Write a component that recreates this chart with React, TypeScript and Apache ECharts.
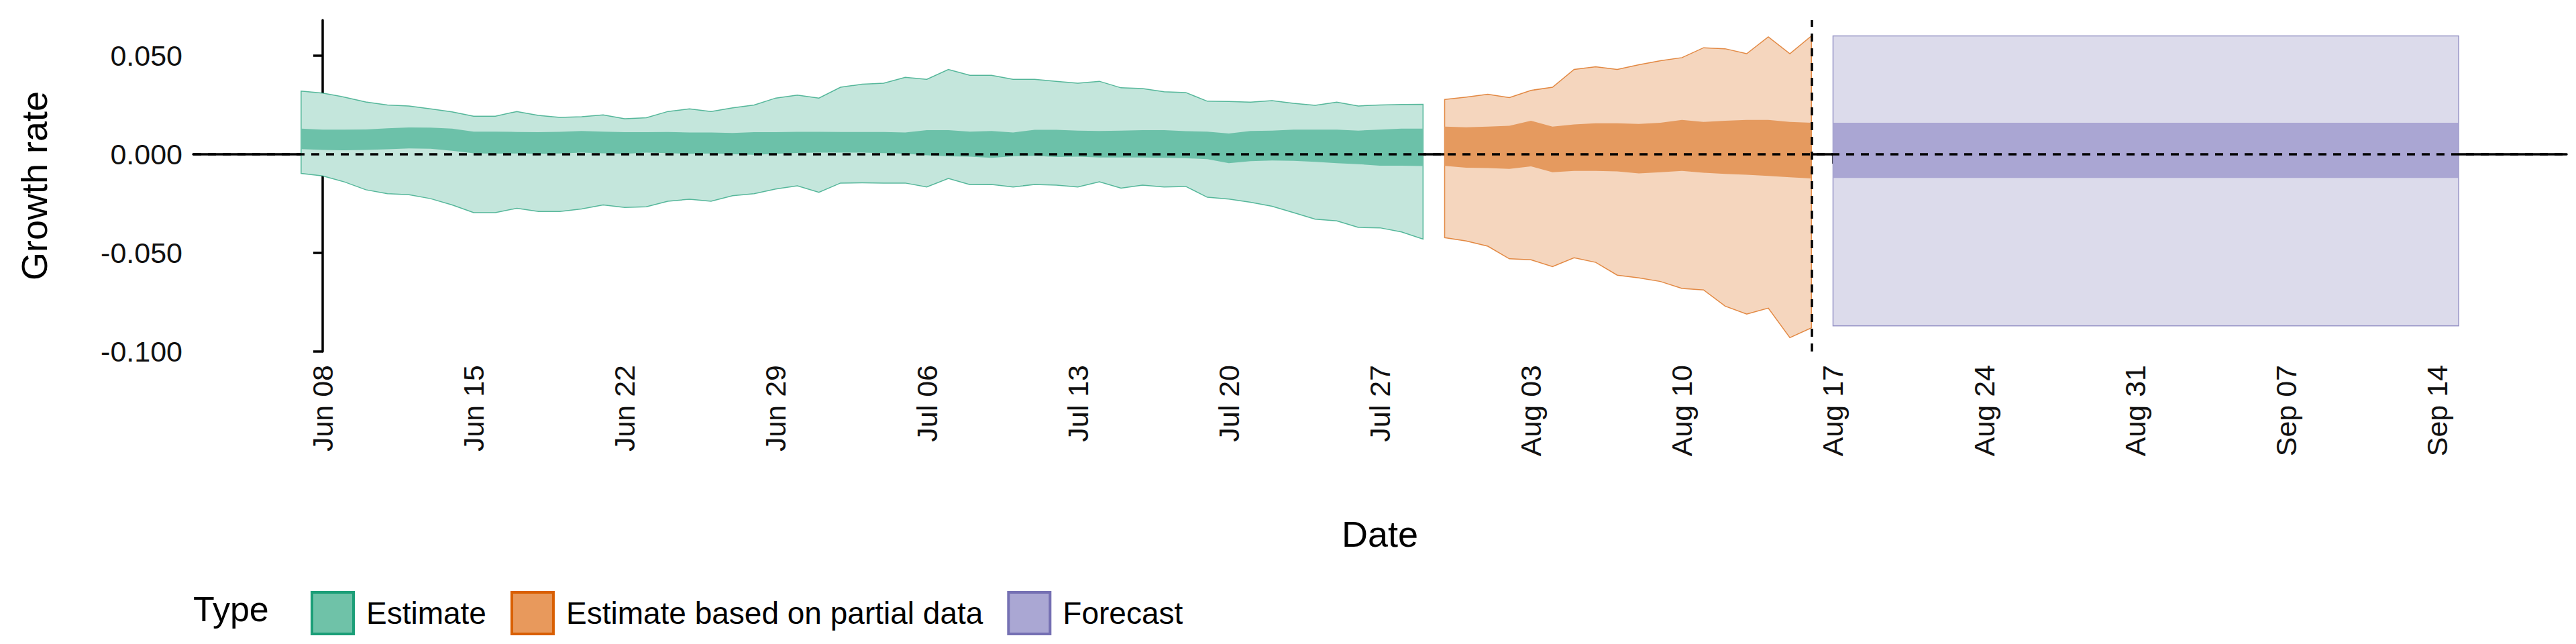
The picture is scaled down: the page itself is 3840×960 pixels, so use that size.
import React, { useEffect, useRef } from "react";
import * as echarts from "echarts";

// day 0 = Jun 08 2020
const REF = Date.UTC(2020, 5, 8);
const dayOf = (s: string) => Math.round((Date.parse(s + "T00:00:00Z") - REF) / 86400000);
const MONTHS = ["Jan", "Feb", "Mar", "Apr", "May", "Jun", "Jul", "Aug", "Sep", "Oct", "Nov", "Dec"];

const tickDays = [0, 7, 14, 21, 28, 35, 42, 49, 56, 63, 70, 77, 84, 91, 98];
const yTicks = [-0.1, -0.05, 0, 0.05];

const estimateStart = "2020-06-07";
const estUpper = [
  0.032, 0.031, 0.029, 0.0265, 0.025, 0.0245, 0.023, 0.0215, 0.0193, 0.0193, 0.0217, 0.0197, 0.0187, 0.019,
  0.02, 0.018, 0.0185, 0.0217, 0.023, 0.0217, 0.0235, 0.025, 0.0285, 0.03, 0.0285, 0.034, 0.0355, 0.036,
  0.039, 0.038, 0.043, 0.04, 0.04, 0.038, 0.038, 0.037, 0.036, 0.037, 0.0337, 0.0333, 0.0317, 0.0313,
  0.0269, 0.0268, 0.0264, 0.0272, 0.0258, 0.0248, 0.0264, 0.0245, 0.025, 0.0252, 0.0253,
];
const estLower = [
  -0.0097, -0.011, -0.014, -0.018, -0.02, -0.0205, -0.0225, -0.0257, -0.0296, -0.0296, -0.0274, -0.029,
  -0.029, -0.0277, -0.0257, -0.027, -0.0266, -0.0238, -0.0228, -0.0238, -0.021, -0.02, -0.0176, -0.016,
  -0.0193, -0.0146, -0.0145, -0.0146, -0.0146, -0.0166, -0.0123, -0.0154, -0.0153, -0.0166, -0.0153,
  -0.0157, -0.0166, -0.014, -0.0172, -0.0157, -0.0166, -0.0163, -0.0218, -0.0227, -0.0243, -0.0264,
  -0.0296, -0.0329, -0.0338, -0.0371, -0.0373, -0.0394, -0.043,
];
const estInnerUpper = [
  0.013, 0.0125, 0.0125, 0.0126, 0.0132, 0.0136, 0.0135, 0.013, 0.0115, 0.0115, 0.0113, 0.0112, 0.0114,
  0.0118, 0.0115, 0.0112, 0.0112, 0.0113, 0.011, 0.011, 0.0108, 0.0112, 0.0112, 0.0114, 0.0114, 0.0113,
  0.0113, 0.0113, 0.011, 0.0122, 0.0122, 0.0115, 0.0118, 0.011, 0.0124, 0.0124, 0.012, 0.0118, 0.012,
  0.0122, 0.0122, 0.0117, 0.0115, 0.0105, 0.0118, 0.012, 0.0125, 0.0125, 0.0125, 0.012, 0.0125, 0.013,
  0.013,
];
const estInnerLower = [
  0.0026, 0.0022, 0.002, 0.0022, 0.0025, 0.003, 0.0028, 0.0018, 0.0005, 0.0003, 0.0004, 0.0002, 0.0004,
  0.0008, 0.0005, 0.0002, 0.0008, 0.0006, 0.0002, 0.0004, 0.0001, -0.0003, 0.0002, 0.0007, 0.0008,
  0.0008, 0.0008, 0.0006, 0.0003, -0.0005, -0.001, -0.0012, -0.0018, -0.001, -0.0008, -0.0014, -0.0012,
  -0.0016, -0.0016, -0.0016, -0.0018, -0.002, -0.0025, -0.0045, -0.0035, -0.0032, -0.0033, -0.0038,
  -0.0045, -0.005, -0.0058, -0.0058, -0.006,
];

const partialStart = "2020-07-30";
const partUpper = [
  0.0278, 0.029, 0.0304, 0.0287, 0.0324, 0.034, 0.043, 0.0444, 0.043, 0.0454, 0.0474, 0.049, 0.054,
  0.0535, 0.051, 0.0595, 0.051, 0.06,
];
const partLower = [
  -0.0423, -0.044, -0.0466, -0.053, -0.0535, -0.057, -0.0525, -0.0548, -0.0613, -0.0627, -0.0645,
  -0.068, -0.0688, -0.077, -0.081, -0.078, -0.093, -0.088,
];
const partInnerUpper = [
  0.014, 0.0137, 0.014, 0.0144, 0.017, 0.014, 0.0151, 0.0157, 0.0157, 0.0154, 0.016, 0.0174, 0.0164,
  0.017, 0.0174, 0.0174, 0.0164, 0.016,
];
const partInnerLower = [
  -0.0059, -0.0068, -0.007, -0.0074, -0.0061, -0.0091, -0.0084, -0.0084, -0.0087, -0.0097, -0.0091,
  -0.0084, -0.0094, -0.01, -0.0104, -0.011, -0.0117, -0.0123,
];

const forecastDates = ["2020-08-17", "2020-09-15"];
const fcUpper = [0.06, 0.06];
const fcLower = [-0.087, -0.087];
const fcInnerUpper = [0.016, 0.016];
const fcInnerLower = [-0.012, -0.012];

const COLORS = {
  Estimate: { line: "#1b9e77", outer: "#c4e6dc", inner: "#6cc1a9" },
  Partial: { line: "#d95f02", outer: "#f5d6be", inner: "#e59a5f" },
  Forecast: { line: "#7570b3", outer: "#dcdbeb", inner: "#aaa6d3" },
};

// filled ribbon between lo and hi, drawn through the axes' scales
function ribbon(name: string, xs: number[], lo: number[], hi: number[], fill: string, edge: string | null, z: number) {
  return {
    type: "custom",
    name,
    silent: true,
    z,
    itemStyle: { color: fill, borderColor: edge || fill },
    data: [[xs[0], lo[0]]],
    renderItem: (_p: any, api: any) => {
      const top = xs.map((x, i) => api.coord([x, hi[i]]));
      const bot = xs.map((x, i) => api.coord([x, lo[i]])).reverse();
      return {
        type: "polygon",
        shape: { points: top.concat(bot) },
        style: { fill, stroke: edge || "none", lineWidth: edge ? 1.5 : 0, strokeOpacity: 0.7 },
      };
    },
  };
}

const App: React.FC = () => {
  const chartRef = useRef<HTMLDivElement>(null);

  useEffect(() => {
    const chart = echarts.init(chartRef.current, null, { renderer: "svg" });
    const s0 = dayOf(estimateStart);
    const estX = estUpper.map((_, i) => s0 + i);
    const p0 = dayOf(partialStart);
    const partX = partUpper.map((_, i) => p0 + i);
    const fcX = forecastDates.map(dayOf);
    const font = "Liberation Sans";

    const series: any[] = [
      ribbon("Estimate-outer", estX, estLower, estUpper, COLORS.Estimate.outer, COLORS.Estimate.line, 2),
      ribbon("Estimate", estX, estInnerLower, estInnerUpper, COLORS.Estimate.inner, null, 3),
      ribbon("Partial-outer", partX, partLower, partUpper, COLORS.Partial.outer, COLORS.Partial.line, 2),
      ribbon("Estimate based on partial data", partX, partInnerLower, partInnerUpper, COLORS.Partial.inner, null, 3),
      ribbon("Forecast-outer", fcX, fcLower, fcUpper, COLORS.Forecast.outer, COLORS.Forecast.line, 2),
      ribbon("Forecast", fcX, fcInnerLower, fcInnerUpper, COLORS.Forecast.inner, null, 3),
      {
        type: "line",
        name: "refs",
        data: [],
        markLine: {
          silent: true,
          symbol: "none",
          label: { show: false },
          lineStyle: { color: "#000", type: [12, 10], width: 3.5 },
          data: [{ yAxis: 0 }, { xAxis: dayOf("2020-08-16") }],
        },
        z: 5,
      },
    ];

    chart.setOption({
      animation: false,
      textStyle: { fontFamily: font },
      grid: { left: 280, right: 6, top: 22, bottom: 428 },
      legend: {
        left: 450,
        top: 868,
        itemWidth: 62,
        itemHeight: 62,
        itemGap: 36,
        icon: "rect",
        selectedMode: false,
        textStyle: { fontSize: 46, color: "#000", fontFamily: font, padding: [0, 0, 0, 14] },
        data: [
          { name: "Estimate", itemStyle: { color: "#6fc2a8", borderColor: COLORS.Estimate.line, borderWidth: 4 } },
          { name: "Estimate based on partial data", itemStyle: { color: "#e8995c", borderColor: COLORS.Partial.line, borderWidth: 4 } },
          { name: "Forecast", itemStyle: { color: "#aaa7d3", borderColor: COLORS.Forecast.line, borderWidth: 4 } },
        ],
      },
      graphic: [
        { type: "text", left: 280, top: 874, style: { text: "Type", fontSize: 52, fill: "#000", fontFamily: font } },
      ],
      xAxis: {
        type: "value",
        min: -6,
        max: 104,
        name: "Date",
        nameLocation: "middle",
        nameGap: 245,
        nameTextStyle: { fontSize: 54, color: "#000" },
        splitLine: { show: false },
        axisLine: { lineStyle: { color: "#000", width: 3.5 } },
        axisTick: { customValues: tickDays, length: 14, lineStyle: { color: "#000", width: 3.5 } },
        axisLabel: {
          customValues: tickDays,
          rotate: 90,
          fontSize: 43,
          color: "#111",
          margin: 20,
          formatter: (v: number) => {
            const d = new Date(REF + v * 86400000);
            return `${MONTHS[d.getUTCMonth()]} ${String(d.getUTCDate()).padStart(2, "0")}`;
          },
        },
      },
      yAxis: {
        type: "value",
        min: -0.1,
        max: 0.068,
        name: "Growth rate",
        nameLocation: "middle",
        nameGap: 210,
        nameTextStyle: { fontSize: 54, color: "#000" },
        splitLine: { show: false },
        axisLine: { show: true, lineStyle: { color: "#000", width: 3.5 } },
        axisTick: { show: true, customValues: yTicks, length: 14, lineStyle: { color: "#000", width: 3.5 } },
        axisLabel: {
          customValues: yTicks,
          fontSize: 43,
          color: "#111",
          margin: 16,
          formatter: (v: number) => v.toFixed(3),
        },
      },
      series,
    });
    return () => chart.dispose();
  }, []);

  return <div ref={chartRef} style={{ width: 3824, height: 944 }} />;
};

export default App;
